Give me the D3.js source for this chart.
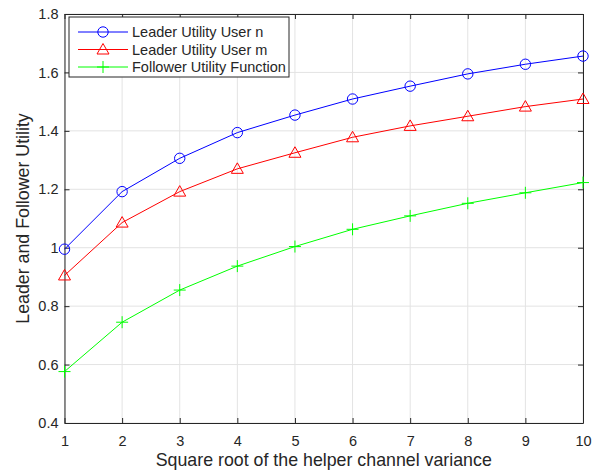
<!DOCTYPE html>
<html>
<head>
<meta charset="utf-8">
<script src="https://cdn.jsdelivr.net/npm/d3@7"></script>
<style>
  body { margin: 0; background: #fff; }
  text { font-family: "Liberation Sans", Arial, sans-serif; fill: #262626; }
</style>
</head>
<body>
<svg id="chart"></svg>
<script>
// data
const xValues = [1, 2, 3, 4, 5, 6, 7, 8, 9, 10];
const leaderN = [0.995, 1.192, 1.306, 1.394, 1.454, 1.509, 1.553, 1.595, 1.628, 1.656];
const leaderM = [0.905, 1.086, 1.192, 1.27, 1.325, 1.378, 1.417, 1.45, 1.483, 1.509];
const follower = [0.576, 0.745, 0.855, 0.937, 1.004, 1.063, 1.109, 1.152, 1.188, 1.223];
const seriesNames = ["Leader Utility User n", "Leader Utility User m", "Follower Utility Function"];
const xTicks = [1, 2, 3, 4, 5, 6, 7, 8, 9, 10];
const yTicks = [0.4, 0.6, 0.8, 1, 1.2, 1.4, 1.6, 1.8];

const W = 596, H = 476;
const margin = { top: 14, right: 13, bottom: 53, left: 64.5 };
const width = W - margin.left - margin.right;
const height = H - margin.top - margin.bottom;

const root = d3.select("#chart").attr("width", W).attr("height", H);
const svg = root.append("g").attr("transform", `translate(${margin.left},${margin.top})`);

const x = d3.scaleLinear().domain([1, 10]).range([0, width]);
const y = d3.scaleLinear().domain([0.4, 1.8]).range([height, 0]);

// grid
svg.append("g").selectAll("line").data(xTicks).enter().append("line")
  .attr("x1", d => x(d)).attr("x2", d => x(d)).attr("y1", 0).attr("y2", height)
  .attr("stroke", "#e3e3e3").attr("stroke-width", 1);
svg.append("g").selectAll("line").data(yTicks).enter().append("line")
  .attr("y1", d => y(d)).attr("y2", d => y(d)).attr("x1", 0).attr("x2", width)
  .attr("stroke", "#e3e3e3").attr("stroke-width", 1);

// axes (ticks inside, box)
const fmt = d => String(+d.toFixed(1));
const axStyle = g => {
  g.select(".domain").attr("stroke", "#262626");
  g.selectAll(".tick line").attr("stroke", "#262626");
  g.selectAll(".tick text").style("font-size", "14.5px").attr("fill", "#262626");
};
svg.append("g").attr("transform", `translate(0,${height})`)
  .call(d3.axisBottom(x).tickValues(xTicks).tickSize(-5).tickSizeOuter(0).tickPadding(13).tickFormat(fmt))
  .call(axStyle);
svg.append("g")
  .call(d3.axisLeft(y).tickValues(yTicks).tickSize(-5).tickSizeOuter(0).tickPadding(6).tickFormat(fmt))
  .call(axStyle);
svg.append("g")
  .call(d3.axisTop(x).tickValues(xTicks).tickSize(-5).tickSizeOuter(0).tickFormat(""))
  .call(axStyle);
svg.append("g").attr("transform", `translate(${width},0)`)
  .call(d3.axisRight(y).tickValues(yTicks).tickSize(-5).tickSizeOuter(0).tickFormat(""))
  .call(axStyle);

// series
const series = [
  { name: seriesNames[0], values: leaderN, color: "#0000ff", marker: "circle" },
  { name: seriesNames[1], values: leaderM, color: "#ff0000", marker: "triangle" },
  { name: seriesNames[2], values: follower, color: "#00ff00", marker: "plus" }
];

function drawMarker(g, type, color) {
  if (type === "circle") {
    g.append("circle").attr("r", 5.2).attr("fill", "none").attr("stroke", color).attr("stroke-width", 1);
  } else if (type === "triangle") {
    g.append("path").attr("d", "M0,-6L6,4.5L-6,4.5Z").attr("fill", "none").attr("stroke", color).attr("stroke-width", 1);
  } else {
    g.append("path").attr("d", "M-6,0H6M0,-6V6").attr("fill", "none").attr("stroke", color).attr("stroke-width", 1);
  }
}

const line = d3.line().x((d, i) => x(xValues[i])).y(d => y(d));
series.forEach(s => {
  svg.append("path").datum(s.values).attr("d", line)
    .attr("fill", "none").attr("stroke", s.color).attr("stroke-width", 1);
  s.values.forEach((v, i) => {
    const g = svg.append("g").attr("transform", `translate(${x(xValues[i])},${y(v)})`);
    drawMarker(g, s.marker, s.color);
  });
});

// legend
const legend = svg.append("g").attr("transform", "translate(4.5,3)");
legend.append("rect").attr("width", 220).attr("height", 60)
  .attr("fill", "#fff").attr("stroke", "#262626").attr("stroke-width", 1);
series.forEach((s, i) => {
  const ly = 15 + i * 17.5;
  legend.append("line").attr("x1", 9).attr("x2", 59).attr("y1", ly).attr("y2", ly)
    .attr("stroke", s.color).attr("stroke-width", 1);
  drawMarker(legend.append("g").attr("transform", `translate(34,${ly})`), s.marker, s.color);
  legend.append("text").attr("x", 63).attr("y", ly).attr("dy", "0.35em")
    .style("font-size", "14.5px").text(s.name);
});

// axis labels
root.append("text").attr("x", margin.left + width / 2).attr("y", 466)
  .attr("text-anchor", "middle").style("font-size", "17.8px")
  .text("Square root of the helper channel variance");
root.append("text").attr("transform", `translate(28.5,${margin.top + height / 2}) rotate(-90)`)
  .attr("text-anchor", "middle").style("font-size", "17.8px")
  .text("Leader and Follower Utility");
</script>
</body>
</html>
